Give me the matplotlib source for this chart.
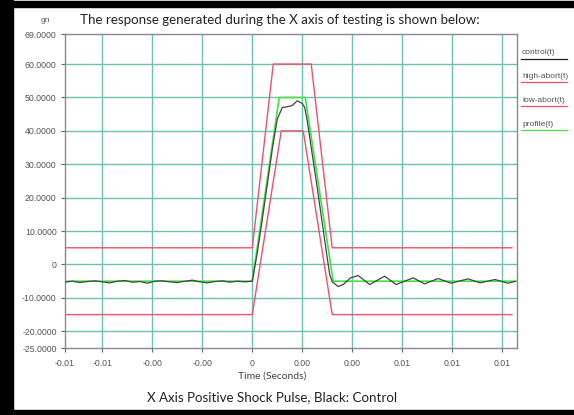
import numpy as np
import matplotlib
matplotlib.use("Agg")
import matplotlib.pyplot as plt
from matplotlib.patches import Rectangle
from matplotlib.lines import Line2D

# abort limits and profile (time in seconds, acceleration in gn)
high_t = [-0.0075, 0.0, 0.00084, 0.00236, 0.0032, 0.0104]
high_v = [5, 5, 60, 60, 5, 5]
low_t = [-0.0075, 0.0, 0.00116, 0.00204, 0.0032, 0.0104]
low_v = [-15, -15, 40, 40, -15, -15]
prof_t = [-0.0075, 0.0, 0.00108, 0.00212, 0.00324, 0.0105]
prof_v = [-5, -5, 50, 50, -5, -5]

# measured control signal
ctrl_t = [-0.0075, -0.0072, -0.0069, -0.0066, -0.0063, -0.0060, -0.0057, -0.0054,
          -0.0051, -0.0048, -0.0045, -0.0042, -0.0039, -0.0036, -0.0033, -0.0030,
          -0.0027, -0.0024, -0.0021, -0.0018, -0.0015, -0.0012, -0.0009, -0.0006,
          -0.0003, 0.0, 0.0002, 0.0004, 0.0006, 0.0008, 0.0010, 0.0012, 0.0014,
          0.0016, 0.0018, 0.0019, 0.0020, 0.0021, 0.0022, 0.0024, 0.0026, 0.0028,
          0.0030, 0.0031, 0.0032, 0.00344, 0.00364, 0.00394, 0.00424, 0.0047,
          0.0053, 0.00576, 0.00644, 0.0069, 0.00744, 0.00796, 0.00864, 0.00912,
          0.00972, 0.01024, 0.01056]
ctrl_v = [-5.3, -5.0, -5.4, -5.1, -4.9, -5.2, -5.5, -5.0, -4.8, -5.3, -5.1, -5.6,
          -5.0, -4.9, -5.2, -5.4, -5.0, -4.7, -5.2, -5.5, -5.1, -4.9, -5.3, -5.0,
          -5.2, -5.0, 3.5, 13.5, 24.0, 34.5, 43.5, 47.0, 47.2, 47.6, 49.0, 48.6,
          48.2, 47.0, 43.0, 33.0, 23.0, 12.5, 2.0, -3.0, -5.2, -6.6, -6.0, -4.0,
          -3.3, -6.0, -3.5, -6.0, -4.0, -5.8, -4.2, -5.6, -4.3, -5.5, -4.5, -5.6,
          -5.0]

y_ticks = [69, 60, 50, 40, 30, 20, 10, 0, -10, -20, -25]
y_labels = ["69.0000", "60.0000", "50.0000", "40.0000", "30.0000", "20.0000",
            "10.0000", "0", "-10.0000", "-20.0000", "-25.0000"]
x_ticks = [-0.0075, -0.006, -0.004, -0.002, 0.0, 0.002, 0.004, 0.006, 0.008, 0.010]
x_labels = ["-0.01", "-0.01", "-0.00", "-0.00", "0", "0.00", "0.00", "0.01", "0.01", "0.01"]
legend_names = ["control(t)", "high-abort(t)", "low-abort(t)", "profile(t)"]

W, H = 574, 415
fig = plt.figure(figsize=(W / 100, H / 100), dpi=100)
fig.patch.set_facecolor("white")

def fx(px):
    return px / W

def fy(py):
    return 1 - py / H

# black frame on left, top, bottom
for (x0, y0, w, h) in [(0, 0, 13, H), (0, 1, W, 6), (0, 410, W, 5)]:
    fig.add_artist(Rectangle((fx(x0), fy(y0 + h)), w / W, h / H,
                             transform=fig.transFigure, color="black", zorder=0))

ax = fig.add_axes([fx(65), fy(348), fx(517) - fx(65), fy(34) - fy(348)])
grid_c = "#6cc2ad"
red = "#f0506e"
green = "#46e046"

ax.plot(high_t, high_v, color=red, lw=1.0, zorder=3)
ax.plot(low_t, low_v, color=red, lw=1.0, zorder=3)
ax.plot(prof_t, prof_v, color=green, lw=1.2, zorder=4)
ax.plot(ctrl_t, ctrl_v, color="#444444", lw=0.9, zorder=5)

ax.set_xlim(-0.0075, 0.0106)
ax.set_ylim(-25, 69)
ax.set_yticks(y_ticks)
ax.set_yticklabels(y_labels)
ax.set_xticks(x_ticks)
ax.set_xticklabels(x_labels)
for v in y_ticks[1:-1]:
    ax.axhline(v, color=grid_c, lw=1.0, zorder=1)
for v in x_ticks[1:]:
    ax.axvline(v, color=grid_c, lw=1.0, zorder=1)

for s in ax.spines.values():
    s.set_color("#8a8a8a")
    s.set_linewidth(1.0)
ax.tick_params(axis="both", length=3, width=0.8, color="#666666",
               labelsize=6.3, labelcolor="#555555", pad=3)
ax.tick_params(axis="x", pad=5)
for lab in ax.get_xticklabels() + ax.get_yticklabels():
    lab.set_family("Liberation Sans")

fig.text(fx(280), fy(20), "The response generated during the X axis of testing is shown below:",
         family="Lato", fontsize=9.6, color="#222222", ha="center", va="center")
fig.text(fx(45), fy(21), "gn", family="Liberation Sans", fontsize=6, color="#555555",
         ha="center", va="center")
fig.text(fx(272), fy(376), "Time (Seconds)", family="Lato", fontsize=7.5, color="#444444",
         ha="center", va="center")
fig.text(fx(272), fy(397), "X Axis Positive Shock Pulse, Black: Control", family="Lato",
         fontsize=9.6, color="#222222", ha="center", va="center")

# legend: name with coloured underline
leg_colors = ["#222222", red, red, green]
leg_y = [53, 76, 100, 124]
for name, c, ly in zip(legend_names, leg_colors, leg_y):
    fig.text(fx(522), fy(ly), name, family="Liberation Sans", fontsize=6,
             color="#555555", ha="left", va="center")
    fig.add_artist(Line2D([fx(521), fx(567)], [fy(ly + 6), fy(ly + 6)],
                          transform=fig.transFigure, color=c, lw=0.9))

fig.savefig("out.png", dpi=100)
